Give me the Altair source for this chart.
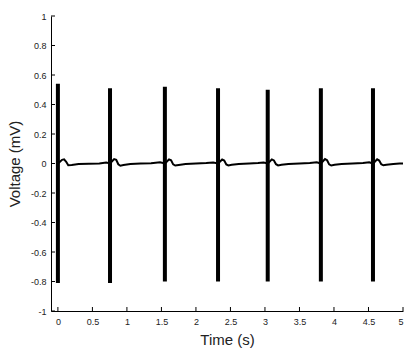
import altair as alt
import pandas as pd

# Baseline trace (time in s, voltage in mV)
trace_t = [0.00, 0.03, 0.06, 0.09, 0.12, 0.15, 0.20, 0.30, 0.45, 0.60, 0.70, 0.755,
           0.785, 0.815, 0.845, 0.875, 0.905, 0.95, 1.05, 1.20, 1.35, 1.48, 1.55,
           1.58, 1.61, 1.64, 1.67, 1.70, 1.75, 1.85, 2.00, 2.15, 2.25, 2.32,
           2.35, 2.38, 2.41, 2.44, 2.47, 2.52, 2.62, 2.77, 2.90, 2.98, 3.04,
           3.07, 3.10, 3.13, 3.16, 3.19, 3.24, 3.34, 3.50, 3.65, 3.75, 3.81,
           3.84, 3.87, 3.90, 3.93, 3.96, 4.01, 4.11, 4.27, 4.42, 4.51, 4.565,
           4.595, 4.625, 4.655, 4.685, 4.715, 4.76, 4.86, 4.95, 5.00]
trace_v = [0.0, 0.012, 0.025, 0.028, 0.012, -0.012, -0.010, -0.004, -0.002, 0.0, 0.006, 0.0,
           0.015, 0.030, 0.025, -0.005, -0.015, -0.010, -0.004, 0.0, 0.002, 0.008, 0.0,
           0.014, 0.028, 0.022, -0.006, -0.014, -0.010, -0.004, 0.0, 0.003, 0.007, 0.0,
           0.013, 0.027, 0.020, -0.006, -0.013, -0.009, -0.003, 0.0, 0.003, 0.007, 0.0,
           0.014, 0.028, 0.021, -0.005, -0.013, -0.009, -0.003, 0.0, 0.003, 0.008, 0.0,
           0.015, 0.030, 0.022, -0.006, -0.014, -0.009, -0.004, 0.0, 0.003, 0.008, 0.0,
           0.014, 0.028, 0.020, -0.005, -0.012, -0.008, -0.004, 0.0, 0.0]

# R-spikes
spike_t = [0.0, 0.755, 1.55, 2.32, 3.04, 3.81, 4.565]
spike_peak = [0.54, 0.51, 0.52, 0.51, 0.50, 0.51, 0.51]
spike_trough = [-0.81, -0.81, -0.80, -0.80, -0.80, -0.80, -0.80]

x_ticks = [0, 0.5, 1, 1.5, 2, 2.5, 3, 3.5, 4, 4.5, 5]
y_ticks = [-1, -0.8, -0.6, -0.4, -0.2, 0, 0.2, 0.4, 0.6, 0.8, 1]

FONT = "Liberation Sans"
W, H = 352, 295

trace_df = pd.DataFrame({"t": trace_t, "v": trace_v})
spike_df = pd.DataFrame({"t": spike_t, "v": spike_trough, "peak": spike_peak})
xtick_df = pd.DataFrame({"t": x_ticks})
ytick_df = pd.DataFrame({"v": y_ticks})

lab = "datum.value < 0 ? '-' + format(-datum.value, '~g') : format(datum.value, '~g')"

xs = alt.Scale(domain=[-0.1, 5], nice=False, zero=False)
ys = alt.Scale(domain=[-1, 1], nice=False, zero=False)
xa = alt.Axis(values=x_ticks, title="Time (s)", labelExpr=lab, tickSize=0,
              labelPadding=6, titlePadding=6, grid=False)
ya = alt.Axis(values=y_ticks, title="Voltage (mV)", labelExpr=lab, tickSize=0,
              labelPadding=5, titlePadding=8, grid=False)
X = alt.X("t:Q", scale=xs, axis=xa)
Y = alt.Y("v:Q", scale=ys, axis=ya)

line = alt.Chart(trace_df).mark_line(color="black", strokeWidth=2).encode(x=X, y=Y)

spikes = alt.Chart(spike_df).mark_rule(color="black", strokeWidth=4).encode(
    x=X, y=Y, y2="peak:Q")

xtick = alt.Chart(xtick_df).mark_rule(color="black", strokeWidth=1).encode(
    x=X, y=alt.value(H), y2=alt.value(H - 4))

ytick = alt.Chart(ytick_df).mark_rule(color="black", strokeWidth=1).encode(
    y=Y, x=alt.value(0), x2=alt.value(4))

chart = alt.layer(line, spikes, xtick, ytick).properties(
    width=W, height=H,
    background="white",
    autosize=alt.AutoSizeParams(type="none"),
    padding={"left": 51, "top": 16, "right": 15, "bottom": 41},
).configure_view(stroke=None).configure_axis(
    domainColor="black", domainWidth=1,
    labelFont=FONT, labelFontSize=9, labelColor="#222",
    titleFont=FONT, titleFontSize=15, titleFontWeight="normal", titleColor="#222",
)

chart.save("out.html", embed_options={"renderer": "svg", "actions": False})
